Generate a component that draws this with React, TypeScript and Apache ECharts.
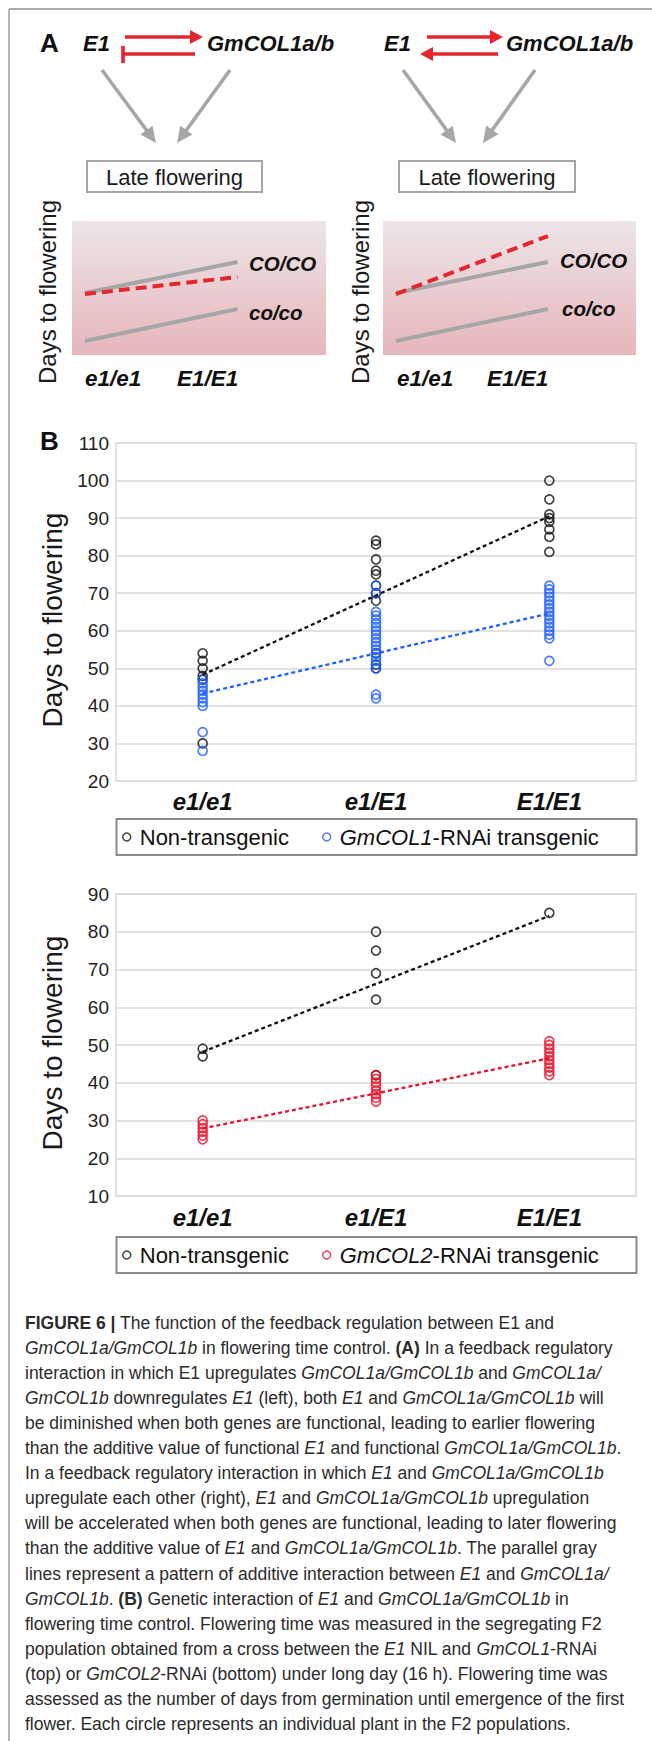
import { useEffect, useRef } from 'react';
import * as echarts from 'echarts';

// ---------- DATA ----------
const categories = ['e1/e1', 'e1/E1', 'E1/E1'];
const yTicksTop = { min: 20, max: 110, interval: 10 };
const yTicksBottom = { min: 10, max: 90, interval: 10 };

// Top chart (GmCOL1-RNAi cross)
const nonTg1_e1e1 = [54, 52, 50, 48, 47, 30];
const nonTg1_e1E1 = [84, 83, 79, 76, 75, 72, 70, 68, 54, 51, 50];
const nonTg1_E1E1 = [100, 95, 91, 90, 89, 87, 85, 81];
const tg1_e1e1 = [47, 46, 45, 44, 43, 42, 41, 40, 33, 28];
const tg1_e1E1 = [72, 70, 65, 64, 63, 62, 61, 60, 59, 58, 57, 56, 55, 54, 53, 52, 51, 50, 43, 42];
const tg1_E1E1 = [72, 71, 70, 69, 68, 67, 66, 65, 64, 63, 62, 61, 60, 59, 58, 52];
const trendNonTg1 = [48.3, 69.4, 90.5];
const trendTg1 = [43.3, 54.0, 64.6];

// Bottom chart (GmCOL2-RNAi cross)
const nonTg2_e1e1 = [49, 47];
const nonTg2_e1E1 = [80, 75, 69, 62, 42];
const nonTg2_E1E1 = [85];
const tg2_e1e1 = [30, 29, 28, 27, 26, 25];
const tg2_e1E1 = [42, 41, 40, 39, 38, 37, 36, 35];
const tg2_E1E1 = [51, 50, 49, 48, 47, 46, 45, 44, 43, 42];
const trendNonTg2 = [48.2, 66.2, 84.2];
const trendTg2 = [27.9, 37.2, 46.5];

// Panel A schematic lines (x: e1/e1 -> E1/E1, y: arbitrary days scale 0-10)
const schemX = [0, 1];
const coHigh = [4.63, 6.94];
const coLow = [1.04, 3.43];
const feedbackLeft = [4.55, 5.82];
const feedbackRight = [4.55, 8.88];

const legendTop = ['Non-transgenic', 'GmCOL1-RNAi transgenic'];
const legendBottom = ['Non-transgenic', 'GmCOL2-RNAi transgenic'];

const captionLines = [
  '{b|FIGURE 6 |} The function of the feedback regulation between E1 and',
  '{i|GmCOL1a/GmCOL1b} in flowering time control. {b|(A)} In a feedback regulatory',
  'interaction in which E1 upregulates {i|GmCOL1a/GmCOL1b} and {i|GmCOL1a/}',
  '{i|GmCOL1b} downregulates {i|E1} (left), both {i|E1} and {i|GmCOL1a/GmCOL1b} will',
  'be diminished when both genes are functional, leading to earlier flowering',
  'than the additive value of functional {i|E1} and functional {i|GmCOL1a/GmCOL1b}.',
  'In a feedback regulatory interaction in which {i|E1} and {i|GmCOL1a/GmCOL1b}',
  'upregulate each other (right), {i|E1} and {i|GmCOL1a/GmCOL1b} upregulation',
  'will be accelerated when both genes are functional, leading to later flowering',
  'than the additive value of {i|E1} and {i|GmCOL1a/GmCOL1b}. The parallel gray',
  'lines represent a pattern of additive interaction between {i|E1} and {i|GmCOL1a/}',
  '{i|GmCOL1b}. {b|(B)} Genetic interaction of {i|E1} and {i|GmCOL1a/GmCOL1b} in',
  'flowering time control. Flowering time was measured in the segregating F2',
  'population obtained from a cross between the {i|E1} NIL and {i|GmCOL1}-RNAi',
  '(top) or {i|GmCOL2}-RNAi (bottom) under long day (16 h). Flowering time was',
  'assessed as the number of days from germination until emergence of the first',
  'flower. Each circle represents an individual plant in the F2 populations.',
];

// ---------- STYLE ----------
const FONT = 'Liberation Sans, Arial, sans-serif';
const BLACK = '#111111';
const BLUE = '#1f5fff';
const RED = '#e8112d';
const ARROW_RED = '#e3262f';
const GRAY = '#a6a6a6';
const GRID_GRAY = '#d9d9d9';

function toPoints(cols: number[][]) {
  const out: number[][] = [];
  cols.forEach((vals, i) => vals.forEach((v) => out.push([i, v])));
  return out;
}

function arrow(x1: number, y1: number, x2: number, y2: number, color: string, width: number, headLen: number, headHalf: number) {
  const dx = x2 - x1;
  const dy = y2 - y1;
  const len = Math.sqrt(dx * dx + dy * dy);
  const ux = dx / len;
  const uy = dy / len;
  const px = -uy;
  const py = ux;
  const bx = x2 - ux * headLen;
  const by = y2 - uy * headLen;
  return [
    {
      type: 'line',
      shape: { x1, y1, x2: x2 - ux * headLen * 0.7, y2: y2 - uy * headLen * 0.7 },
      style: { stroke: color, lineWidth: width },
    },
    {
      type: 'polygon',
      shape: { points: [[x2, y2], [bx + px * headHalf, by + py * headHalf], [bx - px * headHalf, by - py * headHalf]] },
      style: { fill: color },
    },
  ];
}

function txt(text: string, x: number, y: number, size: number, opts: any = {}) {
  return {
    type: 'text',
    x,
    y,
    rotation: opts.rotation || 0,
    style: {
      text,
      fontSize: size,
      fontFamily: FONT,
      fontWeight: opts.weight || 'normal',
      fontStyle: opts.italic ? 'italic' : 'normal',
      fill: opts.color || BLACK,
      align: opts.align || 'left',
      verticalAlign: 'middle',
    },
  };
}

export default function App() {
  const ref = useRef<HTMLDivElement>(null);

  useEffect(() => {
    document.body.style.margin = '0';
    if (!ref.current) return;
    const chart = echarts.init(ref.current, null, { renderer: 'svg' });

    const bg = new echarts.graphic.LinearGradient(0, 0, 0, 1, [
      { offset: 0, color: '#ece5e7' },
      { offset: 1, color: '#e7b6bb' },
    ]);

    const mainGrid = (top: number, height: number) => ({
      left: 116, top, width: 520, height,
      show: true, borderColor: GRID_GRAY, borderWidth: 1.5, backgroundColor: '#fff',
    });
    const schemGrid = (left: number, width: number) => ({
      left, top: 221, width, height: 134,
      show: true, borderWidth: 0, backgroundColor: bg,
    });

    const catAxis = (gridIndex: number, margin: number) => ({
      type: 'category', gridIndex, data: categories, boundaryGap: true,
      axisLine: { show: false }, axisTick: { show: false }, splitLine: { show: false },
      axisLabel: { margin, fontSize: 24, fontWeight: 'bold', fontStyle: 'italic', color: BLACK, fontFamily: FONT },
    });
    const valAxis = (gridIndex: number, t: { min: number; max: number; interval: number }) => ({
      type: 'value', gridIndex, min: t.min, max: t.max, interval: t.interval,
      axisLine: { show: false }, axisTick: { show: false },
      splitLine: { show: true, lineStyle: { color: GRID_GRAY, width: 1.5 } },
      axisLabel: { margin: 7, fontSize: 19, color: '#222', fontFamily: FONT },
    });

    const scatter = (name: string, cols: number[][], color: string, axis: number) => ({
      type: 'scatter', name, xAxisIndex: axis, yAxisIndex: axis,
      data: toPoints(cols), symbol: 'circle', symbolSize: 9,
      itemStyle: { color: 'rgba(255,255,255,0)', borderColor: color, borderWidth: 1.7 },
      z: 2,
    });
    const trend = (vals: number[], color: string, axis: number) => ({
      type: 'line', xAxisIndex: axis, yAxisIndex: axis, data: vals,
      symbol: 'none', silent: true,
      lineStyle: { color, width: 2.3, type: [4, 3] },
      z: 3,
    });
    const schemLine = (xs: number[], ys: number[], axis: number, color: string, dashed: boolean) => ({
      type: 'line', xAxisIndex: axis, yAxisIndex: axis,
      data: xs.map((x, i) => [x, ys[i]]), symbol: 'none', silent: true,
      lineStyle: dashed ? { color, width: 4, type: [11, 6] } : { color, width: 4 },
      z: dashed ? 4 : 3,
    });

    const legend = (names: string[], top: number) => ({
      data: names.map((n) => ({ name: n })),
      left: 122, top, orient: 'horizontal', itemGap: 33,
      itemWidth: 16, itemHeight: 8, padding: 0,
      itemStyle: { borderWidth: 1.5 },
      selectedMode: false,
      formatter: (name: string) =>
        name.indexOf('GmCOL') === 0 ? '{i|' + name.split('-')[0] + '}-RNAi transgenic' : name,
      textStyle: {
        fontSize: 22, color: BLACK, fontFamily: FONT,
        rich: { i: { fontSize: 22, fontStyle: 'italic', color: BLACK, fontFamily: FONT } },
      },
    });

    const graphics: any[] = [];
    // frame
    graphics.push({ type: 'line', shape: { x1: 9, y1: 9, x2: 652, y2: 9 }, style: { stroke: '#8f8f8f', lineWidth: 1.3 } });
    graphics.push({ type: 'line', shape: { x1: 9, y1: 9, x2: 9, y2: 1741 }, style: { stroke: '#8f8f8f', lineWidth: 1.3 } });

    // Panel A
    graphics.push(txt('A', 40, 43, 26, { weight: 'bold' }));
    graphics.push(txt('E1', 83, 43, 22, { weight: 'bold', italic: true }));
    graphics.push(txt('GmCOL1a/b', 207, 43, 22, { weight: 'bold', italic: true }));
    graphics.push(txt('E1', 384, 43, 22, { weight: 'bold', italic: true }));
    graphics.push(txt('GmCOL1a/b', 506, 43, 22, { weight: 'bold', italic: true }));
    // red regulatory arrows
    graphics.push(...arrow(125, 37, 203, 37, ARROW_RED, 3.6, 13, 7));
    graphics.push({ type: 'line', shape: { x1: 122, y1: 54, x2: 195, y2: 54 }, style: { stroke: ARROW_RED, lineWidth: 3.6 } });
    graphics.push({ type: 'line', shape: { x1: 123, y1: 46, x2: 123, y2: 63 }, style: { stroke: ARROW_RED, lineWidth: 3.6 } });
    graphics.push(...arrow(427, 37, 503, 37, ARROW_RED, 3.6, 13, 7));
    graphics.push(...arrow(498, 54, 420, 54, ARROW_RED, 3.6, 13, 7));
    // gray arrows
    graphics.push(...arrow(102, 70, 156, 143, GRAY, 3.6, 16, 7.5));
    graphics.push(...arrow(230, 70, 177, 143, GRAY, 3.6, 16, 7.5));
    graphics.push(...arrow(403, 70, 456, 143, GRAY, 3.6, 16, 7.5));
    graphics.push(...arrow(535, 70, 483, 143, GRAY, 3.6, 16, 7.5));
    // late flowering boxes
    graphics.push({ type: 'rect', shape: { x: 87, y: 161, width: 175, height: 31 }, style: { fill: '#fff', stroke: GRAY, lineWidth: 2 } });
    graphics.push({ type: 'rect', shape: { x: 399, y: 161, width: 176, height: 31 }, style: { fill: '#fff', stroke: GRAY, lineWidth: 2 } });
    graphics.push(txt('Late flowering', 174.5, 177, 22, { align: 'center', color: '#1a1a1a' }));
    graphics.push(txt('Late flowering', 487, 177, 22, { align: 'center', color: '#1a1a1a' }));
    graphics.push(txt('Days to flowering', 47, 292, 24, { align: 'center', rotation: Math.PI / 2, color: '#1a1a1a' }));
    graphics.push(txt('Days to flowering', 360, 292, 24, { align: 'center', rotation: Math.PI / 2, color: '#1a1a1a' }));
    graphics.push(txt('CO/CO', 249, 263, 20.5, { weight: 'bold', italic: true }));
    graphics.push(txt('co/co', 249, 312, 20.5, { weight: 'bold', italic: true }));
    graphics.push(txt('CO/CO', 560, 260, 20.5, { weight: 'bold', italic: true }));
    graphics.push(txt('co/co', 562, 308, 20.5, { weight: 'bold', italic: true }));
    graphics.push(txt('e1/e1', 85, 378, 22.5, { weight: 'bold', italic: true }));
    graphics.push(txt('E1/E1', 177, 378, 22.5, { weight: 'bold', italic: true }));
    graphics.push(txt('e1/e1', 397, 378, 22.5, { weight: 'bold', italic: true }));
    graphics.push(txt('E1/E1', 487, 378, 22.5, { weight: 'bold', italic: true }));

    // Panel B
    graphics.push(txt('B', 40, 441, 26, { weight: 'bold' }));
    graphics.push(txt('Days to flowering', 52, 620, 28, { align: 'center', rotation: Math.PI / 2, color: '#1a1a1a' }));
    graphics.push(txt('Days to flowering', 52, 1043, 28, { align: 'center', rotation: Math.PI / 2, color: '#1a1a1a' }));
    graphics.push({ type: 'rect', z: -1, shape: { x: 116.5, y: 819, width: 520, height: 36 }, style: { fill: '#fff', stroke: '#8c8c8c', lineWidth: 2 } });
    graphics.push({ type: 'rect', z: -1, shape: { x: 116.5, y: 1237, width: 520, height: 36 }, style: { fill: '#fff', stroke: '#8c8c8c', lineWidth: 2 } });

    // caption
    captionLines.forEach((line, i) => {
      graphics.push({
        type: 'text', x: 25, y: 1323 + 25.05 * i,
        style: {
          text: line, fontSize: 17.5, fontFamily: FONT, fill: '#2b2b2b', verticalAlign: 'middle', align: 'left',
          rich: {
            b: { fontSize: 17.5, fontFamily: FONT, fill: '#2b2b2b', fontWeight: 'bold' },
            i: { fontSize: 17.5, fontFamily: FONT, fill: '#2b2b2b', fontStyle: 'italic' },
          },
        },
      });
    });

    const option: any = {
      animation: false,
      backgroundColor: '#ffffff',
      grid: [mainGrid(443, 338), mainGrid(894, 302), schemGrid(72, 254), schemGrid(383, 253)],
      xAxis: [
        catAxis(0, 8),
        catAxis(1, 9),
        { type: 'value', gridIndex: 2, min: -0.085, max: 1.58, show: false },
        { type: 'value', gridIndex: 3, min: -0.085, max: 1.58, show: false },
      ],
      yAxis: [
        valAxis(0, yTicksTop),
        valAxis(1, yTicksBottom),
        { type: 'value', gridIndex: 2, min: 0, max: 10, show: false },
        { type: 'value', gridIndex: 3, min: 0, max: 10, show: false },
      ],
      legend: [legend(legendTop, 826), legend(legendBottom, 1244)],
      series: [
        scatter(legendTop[0], [nonTg1_e1e1, nonTg1_e1E1, nonTg1_E1E1], BLACK, 0),
        scatter(legendTop[1], [tg1_e1e1, tg1_e1E1, tg1_E1E1], BLUE, 0),
        trend(trendNonTg1, BLACK, 0),
        trend(trendTg1, BLUE, 0),
        scatter(legendBottom[0], [nonTg2_e1e1, nonTg2_e1E1, nonTg2_E1E1], BLACK, 1),
        scatter(legendBottom[1], [tg2_e1e1, tg2_e1E1, tg2_E1E1], RED, 1),
        trend(trendNonTg2, BLACK, 1),
        trend(trendTg2, RED, 1),
        schemLine(schemX, coHigh, 2, GRAY, false),
        schemLine(schemX, coLow, 2, GRAY, false),
        schemLine(schemX, feedbackLeft, 2, ARROW_RED, true),
        schemLine(schemX, coHigh, 3, GRAY, false),
        schemLine(schemX, coLow, 3, GRAY, false),
        schemLine(schemX, feedbackRight, 3, ARROW_RED, true),
      ],
      graphic: graphics,
    };
    chart.setOption(option);
    return () => chart.dispose();
  }, []);

  return <div ref={ref} style={{ width: 652, height: 1741 }} />;
}
